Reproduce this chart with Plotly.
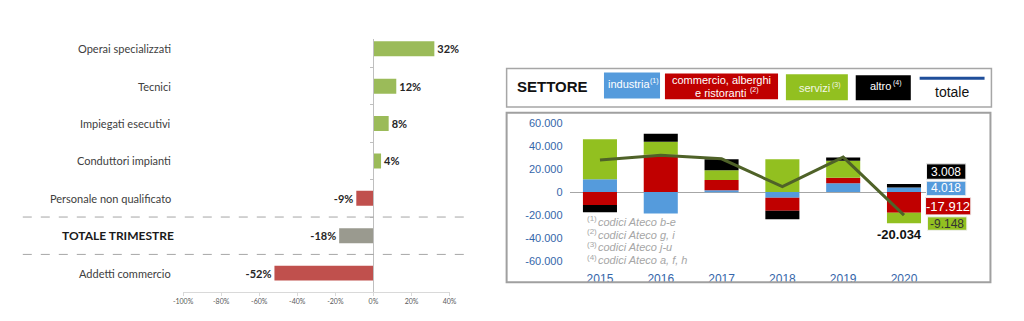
import plotly.graph_objects as go

# ---------------- data ----------------
# left chart
professioni = ["Operai specializzati", "Tecnici", "Impiegati esecutivi", "Conduttori impianti",
               "Personale non qualificato", "TOTALE TRIMESTRE", "Addetti commercio"]
variazione_pct = [32, 12, 8, 4, -9, -18, -52]
x_ticks_left = [-100, -80, -60, -40, -20, 0, 20, 40]
x_ticktext_left = ["-100%", "-80%", "-60%", "-40%", "-20%", "0%", "20%", "40%"]

# right chart
anni = ["2015", "2016", "2017", "2018", "2019", "2020"]
industria = [11200, -18700, 1700, -5000, 7800, 4018]
commercio = [-11200, 32600, 8900, -11200, 4700, -17912]
servizi = [34900, 11200, 8400, 28500, 14800, -9148]
altro = [-6400, 7000, 9700, -7500, 2800, 3008]
totale = [28000, 32100, 29000, 4800, 30500, -20034]
y_ticks_right = [60000, 40000, 20000, 0, -20000, -40000, -60000]
y_ticktext_right = ["60.000", "40.000", "20.000", "0", "-20.000", "-40.000", "-60.000"]
note = ["codici Ateco b-e", "codici Ateco g, i", "codici Ateco j-u", "codici Ateco a, f, h"]

# ---------------- styling ----------------
W, H = 1024, 321
def px(x): return x / W
def py(y): return 1 - y / H

GREEN_L, RED_L, GRAY_L = "#9bbb59", "#c0504d", "#9a9a8f"
bar_colors_left = [GREEN_L, GREEN_L, GREEN_L, GREEN_L, RED_L, GRAY_L, RED_L]
C_IND, C_COM, C_SER, C_ALT = "#559bdc", "#c00000", "#92c020", "#000000"
C_TOT = "#4f6228"
AXBLUE = "#3566aa"
LFONT = "Lato"
RFONT = "Liberation Sans"

def fmt(v):
    return f"{v:,}".replace(",", ".")

fig = go.Figure()

# left bars
fig.add_trace(go.Bar(
    x=variazione_pct, y=professioni, orientation="h", width=0.4,
    marker=dict(color=bar_colors_left, line=dict(width=0)),
    text=[f"{v}%" for v in variazione_pct], textposition="outside",
    textfont=dict(family=LFONT, size=11, color="#262626", weight="bold"),
    cliponaxis=False, xaxis="x", yaxis="y", showlegend=False, hoverinfo="skip"))

# right stacked bars
for name, vals, col in [("industria", industria, C_IND), ("commercio", commercio, C_COM),
                        ("servizi", servizi, C_SER), ("altro", altro, C_ALT)]:
    fig.add_trace(go.Bar(x=anni, y=vals, name=name, width=0.56,
                         marker=dict(color=col, line=dict(width=0)),
                         xaxis="x2", yaxis="y2", showlegend=False))
fig.add_trace(go.Scatter(x=anni, y=totale, mode="lines", line=dict(color=C_TOT, width=3),
                         xaxis="x2", yaxis="y2", showlegend=False))

zero_pos = px(176) + (0 - (-100)) / 140 * (px(447) - px(176))

fig.update_layout(
    width=W, height=H, autosize=False, margin=dict(l=0, r=0, t=0, b=0),
    paper_bgcolor="white", plot_bgcolor="rgba(0,0,0,0)",
    barmode="relative", separators=",.",
    xaxis=dict(domain=[px(176), px(447)], range=[-100, 40], anchor="y",
               tickvals=x_ticks_left, ticktext=x_ticktext_left,
               tickfont=dict(family=LFONT, size=7, color="#595959"),
               showline=True, linecolor="#d9d9d9", ticks="outside", ticklen=3,
               tickcolor="#d9d9d9", showgrid=False, zeroline=False),
    yaxis=dict(domain=[py(296.9), py(34)], type="category", categoryorder="array",
               categoryarray=professioni, range=[6.5, -0.27], anchor="free",
               position=zero_pos, showticklabels=False, showline=True,
               linecolor="#bfbfbf", ticks="outside", ticklen=3, tickcolor="#bfbfbf",
               tickson="boundaries", showgrid=False, zeroline=False),
    xaxis2=dict(domain=[px(569), px(940)], anchor="y2", type="category",
                range=[-0.5, 5.5], showgrid=False, showline=False, ticks="",
                tickfont=dict(family=RFONT, size=12, color=AXBLUE), ticklabelstandoff=9,
                ticklabeloverflow="allow"),
    yaxis2=dict(domain=[py(265), py(121.7)], anchor="x2", range=[-60000, 60000],
                tickvals=y_ticks_right, ticktext=y_ticktext_right,
                tickfont=dict(family=RFONT, size=11, color=AXBLUE),
                showgrid=False, showline=False, ticks="", zeroline=True,
                zerolinecolor="#a6a6a6", zerolinewidth=1, ticklabelstandoff=6),
)

shapes = []
annotations = []

def txt(x, y, text, size, color, family=RFONT, xanchor="left", weight="normal", style="normal"):
    annotations.append(dict(x=px(x), y=py(y), xref="paper", yref="paper", text=text,
                            showarrow=False, xanchor=xanchor, yanchor="middle", align="center",
                            font=dict(family=family, size=size, color=color, weight=weight, style=style)))

# left: category labels
for c in professioni:
    if c == "TOTALE TRIMESTRE":
        annotations.append(dict(x=px(169), y=c, xref="paper", yref="y", text=c, showarrow=False,
                                xanchor="right", yanchor="middle",
                                font=dict(family=LFONT, size=12, color="#1a1a1a", weight="bold")))
    else:
        annotations.append(dict(x=px(166), y=c, xref="paper", yref="y", text=c, showarrow=False,
                                xanchor="right", yanchor="middle",
                                font=dict(family=LFONT, size=11, color="#404040")))
# left: dashed separators around total
for yb in [4.5, 5.5]:
    shapes.append(dict(type="line", xref="paper", yref="y", x0=px(13), x1=px(463), y0=yb, y1=yb,
                       line=dict(color="#a6a6a6", width=1, dash="dash")))

# right: frames
shapes.append(dict(type="rect", xref="paper", yref="paper", x0=px(505), x1=px(998), y0=py(105), y1=py(65),
                   line=dict(color="#a6a6a6", width=1.5)))
shapes.append(dict(type="rect", xref="paper", yref="paper", x0=px(505), x1=px(997), y0=py(287), y1=py(111),
                   line=dict(color="#a0a0a0", width=2)))

# legend
txt(514, 84, "SETTORE", 15, "#111111", weight="bold")
for x0, x1, y0, y1, col in [(604, 661, 69, 96, C_IND), (666, 781, 70, 97, C_COM),
                            (789, 852, 71, 98, C_SER), (860, 916, 72, 98, C_ALT)]:
    shapes.append(dict(type="rect", xref="paper", yref="paper", x0=px(x0), x1=px(x1), y0=py(y1), y1=py(y0),
                       fillcolor=col, line=dict(width=0)))
txt(606, 81, "industria", 11, "white")
txt(649, 78, "(1)", 7, "white")
txt(723.5, 77, "commercio, alberghi", 11, "white", xanchor="center")
txt(695, 90, "e ristoranti", 11, "white")
txt(750, 87, "(2)", 7, "white")
txt(800, 85, "servizi", 11, "#f2f7e6")
txt(834, 82, "(3)", 7, "#f2f7e6")
txt(872, 83, "altro", 11, "white")
txt(896, 80, "(4)", 7, "white")
shapes.append(dict(type="line", xref="paper", yref="paper", x0=px(925), x1=px(991), y0=py(75), y1=py(75),
                   line=dict(color="#1f4e9a", width=3)))
txt(958, 89, "totale", 14, "#111111", xanchor="center")

# footnotes
for i, t in enumerate(note):
    yy = 224 + i * 13.4
    txt(585, yy - 3, f"({i+1})", 8, "#a6a6a6")
    txt(596, yy, t, 11, "#a6a6a6", style="italic")

# 2020 value boxes
boxes = [
    (altro[-1], 952, 172, 40, 16, C_ALT, "white", 12),
    (industria[-1], 952, 189.5, 40, 15, C_IND, "white", 12),
    (commercio[-1], 954, 208, 46, 18, C_COM, "white", 13),
    (servizi[-1], 953, 226, 40, 14, C_SER, "#333333", 12),
]
for v, cx, cy, w, h, col, tcol, fs in boxes:
    shapes.append(dict(type="rect", xref="paper", yref="paper", x0=px(cx - w / 2), x1=px(cx + w / 2),
                       y0=py(cy + h / 2), y1=py(cy - h / 2), fillcolor=col,
                       line=dict(color="#f0f0f0", width=1)))
    txt(cx, cy, fmt(v), fs, tcol, xanchor="center")
txt(905, 237, fmt(totale[-1]), 13, "#111111", xanchor="center", weight="bold")

fig.update_layout(shapes=shapes, annotations=annotations)
fig.write_html("out.html")
